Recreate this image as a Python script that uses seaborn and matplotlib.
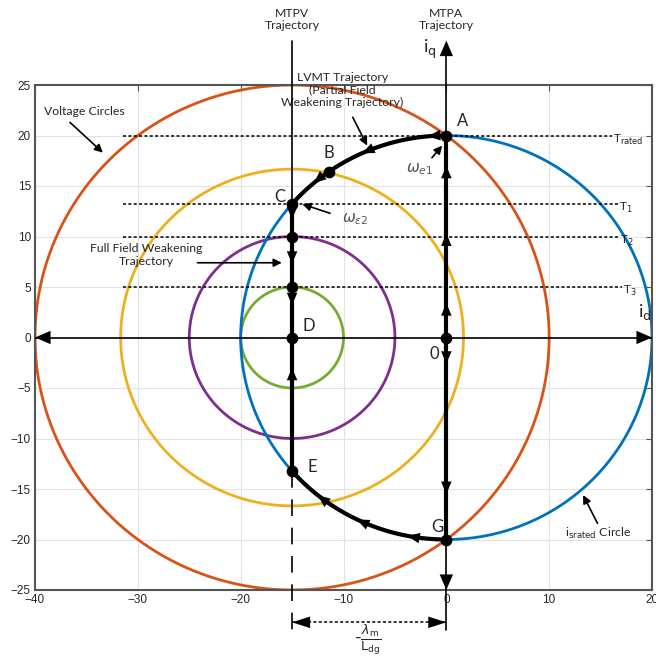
import numpy as np
import matplotlib
matplotlib.use("Agg")
import matplotlib.pyplot as plt
import seaborn as sns

# circle data
mtpv_id = -15.0                       # centre of voltage circles (-lambda_m / L_dq)
voltage_radii = [25.0, 16.67, 10.0, 5.0]
voltage_colors = ["#D95319", "#EDB120", "#7E2F8E", "#77AC30"]
rated_current = 20.0
current_color = "#0072BD"

# constant torque lines
torque_iq = [20.0, 13.23, 10.0, 5.0]
torque_start = [-31.4, -31.4, -31.4, -31.4]
torque_end = [16.1, 16.7, 16.8, 17.1]
torque_labels = [r"T$_{\rm rated}$", r"T$_1$", r"T$_2$", r"T$_3$"]

# operating points
point_names = ["A", "B", "C", "", "", "D", "0", "E", "G"]
point_id = [0.0, -11.4, -15.0, -15.0, -15.0, -15.0, 0.0, -15.0, 0.0]
point_iq = [20.0, 16.4, 13.23, 10.0, 5.0, 0.0, 0.0, -13.23, -20.0]
label_id = [1.6, -11.4, -16.2, None, None, -13.4, -1.2, -13.0, -0.9]
label_iq = [21.4, 18.3, 13.9, None, None, 1.1, -1.6, -12.8, -18.8]

# direction arrows along the trajectories
mtpa_up = [3.4, 10.3, 17.0]
mtpa_down = [-2.6, -15.5]
mtpv_down = [11.7, 7.3, 3.2]
mtpv_up = [-3.0, -12.2]
upper_arc_id = [-1.8, -8.2, -12.9]
lower_arc_id = [-3.8, -8.7, -12.5]

sns.set_style("whitegrid")
plt.rcParams["font.family"] = ["Lato", "DejaVu Sans"]
plt.rcParams["mathtext.fontset"] = "dejavusans"

fig = plt.figure(figsize=(6.56, 6.62), dpi=100)
ax = fig.add_axes([35 / 656, 72 / 662, 617 / 656, 505 / 662])

t = np.linspace(0, 2 * np.pi, 400)
for r, c in zip(voltage_radii, voltage_colors):
    sns.lineplot(x=mtpv_id + r * np.cos(t), y=r * np.sin(t), sort=False,
                 estimator=None, color=c, lw=2, ax=ax)
sns.lineplot(x=rated_current * np.cos(t), y=rated_current * np.sin(t), sort=False,
             estimator=None, color=current_color, lw=2, ax=ax)

# torque lines
for y, x0, x1, lab in zip(torque_iq, torque_start, torque_end, torque_labels):
    ax.plot([x0, x1], [y, y], color="k", lw=1.1, ls=(0, (2, 1.5)), zorder=3)
    ax.text(x1 + 0.1, y - 0.4, lab, fontsize=8.5, va="center", ha="left",
            color="#222222", zorder=5)


def arrow(tail, tip, lw=1.2, scale=12, style="-|>", **kw):
    ax.annotate("", xy=tip, xytext=tail, annotation_clip=False,
                arrowprops=dict(arrowstyle=style, mutation_scale=scale, lw=lw, color="k",
                                shrinkA=0, shrinkB=0, **kw), zorder=7)


axis_head = "-|>,head_length=0.7,head_width=0.3"

# axes lines
ax.plot([-40, 20], [0, 0], color="k", lw=1.2, zorder=4)
arrow((17, 0), (20, 0), lw=0, scale=16, style=axis_head)
arrow((-37, 0), (-40, 0), lw=0, scale=16, style=axis_head)
ax.plot([0, 0], [-29, 28], color="k", lw=1.2, clip_on=False, zorder=4)
arrow((0, 27), (0, 29.4), lw=0, scale=16, style=axis_head)
arrow((0, -22.5), (0, -25), lw=0, scale=16, style=axis_head)
ax.text(18.6, 1.5, r"i$_{\rm d}$", fontsize=13, ha="left", va="bottom")
ax.text(-1.6, 28.5, r"i$_{\rm q}$", fontsize=13, ha="center", va="center", clip_on=False)

# MTPV line
ax.plot([mtpv_id, mtpv_id], [-13.23, 29.4], color="k", lw=1.2, clip_on=False, zorder=4)
ax.plot([mtpv_id, mtpv_id], [-13.23, -29], color="k", lw=1.2, ls=(0, (10, 7)),
        clip_on=False, zorder=4)

# thick trajectories
ax.plot([0, 0], [-20, 20], color="k", lw=3, zorder=6)
ax.plot([mtpv_id, mtpv_id], [-13.23, 13.23], color="k", lw=3, zorder=6)
a_end = np.arccos(mtpv_id / rated_current)
arc = np.linspace(np.pi / 2, a_end, 100)
ax.plot(rated_current * np.cos(arc), rated_current * np.sin(arc), color="k", lw=3, zorder=6)
ax.plot(rated_current * np.cos(arc), -rated_current * np.sin(arc), color="k", lw=3, zorder=6)


def flow_arrow(x, y, dx, dy):
    n = np.hypot(dx, dy)
    arrow((x - dx / n * 1.0, y - dy / n * 1.0), (x, y), lw=0, scale=10,
          style="-|>,head_length=0.9,head_width=0.38")


for y in mtpa_up:
    flow_arrow(0, y, 0, 1)
for y in mtpa_down:
    flow_arrow(0, y, 0, -1)
for y in mtpv_down:
    flow_arrow(mtpv_id, y, 0, -1)
for y in mtpv_up:
    flow_arrow(mtpv_id, y, 0, 1)
for x in upper_arc_id:
    y = np.sqrt(rated_current ** 2 - x ** 2)
    flow_arrow(x, y, -y, x)
for x in lower_arc_id:
    y = -np.sqrt(rated_current ** 2 - x ** 2)
    flow_arrow(x, y, y, -x)

# points
ax.scatter(point_id, point_iq, s=55, color="k", zorder=8)
for n, lx, ly in zip(point_names, label_id, label_iq):
    if n:
        ax.text(lx, ly, n, fontsize=12, ha="center", va="center", zorder=9)

# annotations
ax.text(-35.2, 22.4, "Voltage Circles", fontsize=8.8, ha="center", va="center")
arrow((-36.6, 21.3), (-33.4, 18.3))
ax.text(-10.1, 24.5, "LVMT Trajectory\n(Partial Field\nWeakening Trajectory)",
        fontsize=8.8, ha="center", va="center", linespacing=1.15, clip_on=False)
arrow((-9.1, 21.8), (-7.7, 19.0))
ax.text(-29.2, 8.2, "Full Field Weakening\nTrajectory", fontsize=8.8, ha="center",
        va="center", linespacing=1.2)
arrow((-24.2, 7.4), (-16.0, 7.4))
ax.text(14.8, -19.4, r"i$_{\rm srated}$ Circle", fontsize=8.8, ha="center", va="center")
arrow((14.7, -18.4), (13.3, -15.6))
ax.text(-2.6, 16.7, r"$\omega_{e1}$", fontsize=11, color="#555555", ha="center",
        va="center")
arrow((-1.4, 17.8), (-0.4, 19.0))
ax.text(-8.9, 11.7, r"$\omega_{\epsilon2}$", fontsize=11, color="#555555", ha="center",
        va="center")
arrow((-11.3, 12.3), (-14.0, 13.2))

ax.text(mtpv_id, 31.5, "MTPV\nTrajectory", fontsize=8.8, ha="center", va="center",
        linespacing=1.1, clip_on=False)
ax.text(0, 31.5, "MTPA\nTrajectory", fontsize=8.8, ha="center", va="center",
        linespacing=1.1, clip_on=False)

# -lambda_m / L_dg dimension
ax.plot([mtpv_id, 0], [-28.2, -28.2], color="k", lw=1.1, ls=(0, (2, 1.5)),
        clip_on=False, zorder=4)
dim_head = "-|>,head_length=1.0,head_width=0.32"
arrow((-12.5, -28.2), (mtpv_id, -28.2), lw=0, scale=13, style=dim_head)
arrow((-2.5, -28.2), (0, -28.2), lw=0, scale=13, style=dim_head)
ax.text(-7.6, -30.0, r"-$\frac{\lambda_{\rm m}}{\rm L_{dg}}$", fontsize=13,
        ha="center", va="center", clip_on=False)

ax.set_xlim(-40, 20)
ax.set_ylim(-25, 25)
ax.set_xticks(np.arange(-40, 21, 10))
ax.set_yticks(np.arange(-25, 26, 5))
ax.grid(True, color="#e3e3e3", lw=0.8)
ax.tick_params(direction="in", length=4, top=True, right=True, labelsize=8.5,
               colors="#555555", labelcolor="#262626", pad=3)
for lab in ax.get_xticklabels() + ax.get_yticklabels():
    lab.set_fontfamily(["Liberation Sans", "DejaVu Sans"])
for s in ax.spines.values():
    s.set_color("#555555")
    s.set_linewidth(1.5)
    s.set_visible(True)

fig.savefig("out.png", dpi=100)
